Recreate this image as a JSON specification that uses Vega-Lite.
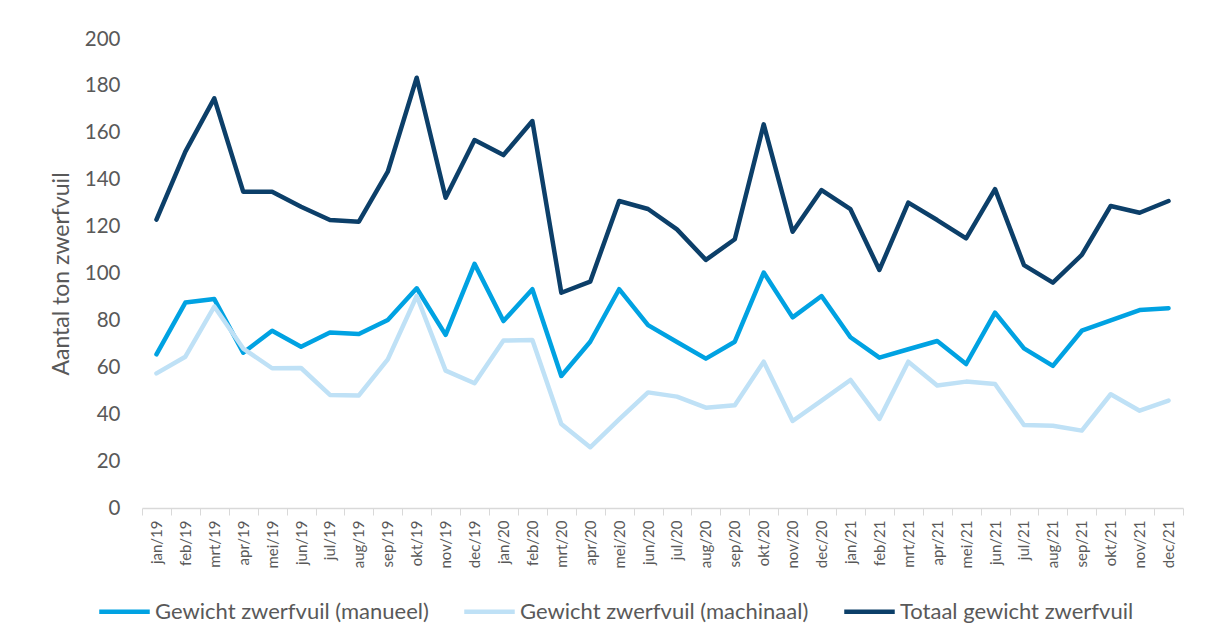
{
  "$schema": "https://vega.github.io/schema/vega-lite/v6.json",
  "width": 1041,
  "height": 469,
  "autosize": {"type": "none"},
  "padding": {"left": 142, "top": 39, "right": 37, "bottom": 133},
  "background": "white",
  "config": {"view": {"stroke": null}, "font": "Lato"},
  "data": {
    "values": [
      {"maand": "jan/19", "manueel": 65.5, "machinaal": 57.4, "totaal": 123.0},
      {"maand": "feb/19", "manueel": 87.6, "machinaal": 64.5, "totaal": 152.0},
      {"maand": "mrt/19", "manueel": 89.1, "machinaal": 85.9, "totaal": 174.7},
      {"maand": "apr/19", "manueel": 66.2, "machinaal": 68.0, "totaal": 134.9},
      {"maand": "mei/19", "manueel": 75.6, "machinaal": 59.6, "totaal": 134.9},
      {"maand": "jun/19", "manueel": 68.8, "machinaal": 59.7, "totaal": 128.5},
      {"maand": "jul/19", "manueel": 74.8, "machinaal": 48.2, "totaal": 122.8},
      {"maand": "aug/19", "manueel": 74.2, "machinaal": 48.0, "totaal": 122.1},
      {"maand": "sep/19", "manueel": 80.2, "machinaal": 63.4, "totaal": 143.4},
      {"maand": "okt/19", "manueel": 93.7, "machinaal": 90.4, "totaal": 183.5},
      {"maand": "nov/19", "manueel": 73.8, "machinaal": 58.6, "totaal": 132.3},
      {"maand": "dec/19", "manueel": 104.1, "machinaal": 53.2, "totaal": 156.9},
      {"maand": "jan/20", "manueel": 79.7, "machinaal": 71.4, "totaal": 150.5},
      {"maand": "feb/20", "manueel": 93.3, "machinaal": 71.6, "totaal": 165.0},
      {"maand": "mrt/20", "manueel": 56.3, "machinaal": 35.8, "totaal": 91.8},
      {"maand": "apr/20", "manueel": 70.9, "machinaal": 25.9, "totaal": 96.5},
      {"maand": "mei/20", "manueel": 93.3, "machinaal": 37.8, "totaal": 130.9},
      {"maand": "jun/20", "manueel": 78.0, "machinaal": 49.3, "totaal": 127.5},
      {"maand": "jul/20", "manueel": 70.8, "machinaal": 47.5, "totaal": 118.8},
      {"maand": "aug/20", "manueel": 63.7, "machinaal": 42.8, "totaal": 105.8},
      {"maand": "sep/20", "manueel": 70.9, "machinaal": 43.8, "totaal": 114.6},
      {"maand": "okt/20", "manueel": 100.4, "machinaal": 62.4, "totaal": 163.6},
      {"maand": "nov/20", "manueel": 81.3, "machinaal": 37.1, "totaal": 117.8},
      {"maand": "dec/20", "manueel": 90.4, "machinaal": 45.8, "totaal": 135.6},
      {"maand": "jan/21", "manueel": 72.8, "machinaal": 54.6, "totaal": 127.4},
      {"maand": "feb/21", "manueel": 64.1, "machinaal": 38.0, "totaal": 101.5},
      {"maand": "mrt/21", "manueel": 67.7, "machinaal": 62.4, "totaal": 130.2},
      {"maand": "apr/21", "manueel": 71.2, "machinaal": 52.2, "totaal": 122.8},
      {"maand": "mei/21", "manueel": 61.4, "machinaal": 53.9, "totaal": 115.0},
      {"maand": "jun/21", "manueel": 83.3, "machinaal": 52.9, "totaal": 136.0},
      {"maand": "jul/21", "manueel": 68.1, "machinaal": 35.4, "totaal": 103.6},
      {"maand": "aug/21", "manueel": 60.6, "machinaal": 35.1, "totaal": 96.1},
      {"maand": "sep/21", "manueel": 75.6, "machinaal": 33.0, "totaal": 107.9},
      {"maand": "okt/21", "manueel": 80.0, "machinaal": 48.5, "totaal": 128.8},
      {"maand": "nov/21", "manueel": 84.4, "machinaal": 41.5, "totaal": 125.9},
      {"maand": "dec/21", "manueel": 85.2, "machinaal": 45.8, "totaal": 130.9}
    ]
  },
  "transform": [
    {"fold": ["manueel", "machinaal", "totaal"], "as": ["serie", "ton"]}
  ],
  "mark": {"type": "line", "strokeWidth": 4.5, "strokeJoin": "round", "strokeCap": "round"},
  "encoding": {
    "x": {
      "field": "maand",
      "type": "ordinal",
      "sort": null,
      "scale": {"type": "band", "paddingInner": 0, "paddingOuter": 0},
      "axis": {
        "title": null,
        "labelAngle": -90,
        "labelAlign": "right",
        "labelBaseline": "middle",
        "labelFontSize": 15,
        "labelColor": "#595959",
        "labelPadding": 5,
        "domainColor": "#D9D9D9",
        "domainWidth": 1.5,
        "tickColor": "#D9D9D9",
        "tickWidth": 1,
        "tickSize": 7,
        "tickBand": "extent"
      }
    },
    "y": {
      "field": "ton",
      "type": "quantitative",
      "scale": {"domain": [0, 200], "nice": false},
      "axis": {
        "values": [0, 20, 40, 60, 80, 100, 120, 140, 160, 180, 200],
        "grid": false,
        "domain": false,
        "ticks": false,
        "labelFontSize": 20.5,
        "labelColor": "#595959",
        "labelPadding": 22,
        "title": "Aantal ton zwerfvuil",
        "titleFontSize": 23,
        "titleFontWeight": "normal",
        "titleColor": "#595959",
        "titlePadding": 11
      }
    },
    "color": {
      "field": "serie",
      "type": "nominal",
      "scale": {
        "domain": ["manueel", "machinaal", "totaal"],
        "range": ["#00A2E2", "#BFE1F6", "#0C3F69"]
      },
      "legend": {
        "orient": "none",
        "legendX": -45,
        "legendY": 545,
        "direction": "horizontal",
        "title": null,
        "symbolType": "stroke",
        "symbolSize": 2550,
        "symbolStrokeWidth": 4.5,
        "labelFontSize": 22,
        "labelColor": "#595959",
        "labelOffset": 3,
        "columnPadding": 26,
        "labelLimit": 400,
        "labelExpr": "datum.value == 'manueel' ? 'Gewicht zwerfvuil (manueel)' : datum.value == 'machinaal' ? 'Gewicht zwerfvuil (machinaal)' : 'Totaal gewicht zwerfvuil'"
      }
    }
  }
}
